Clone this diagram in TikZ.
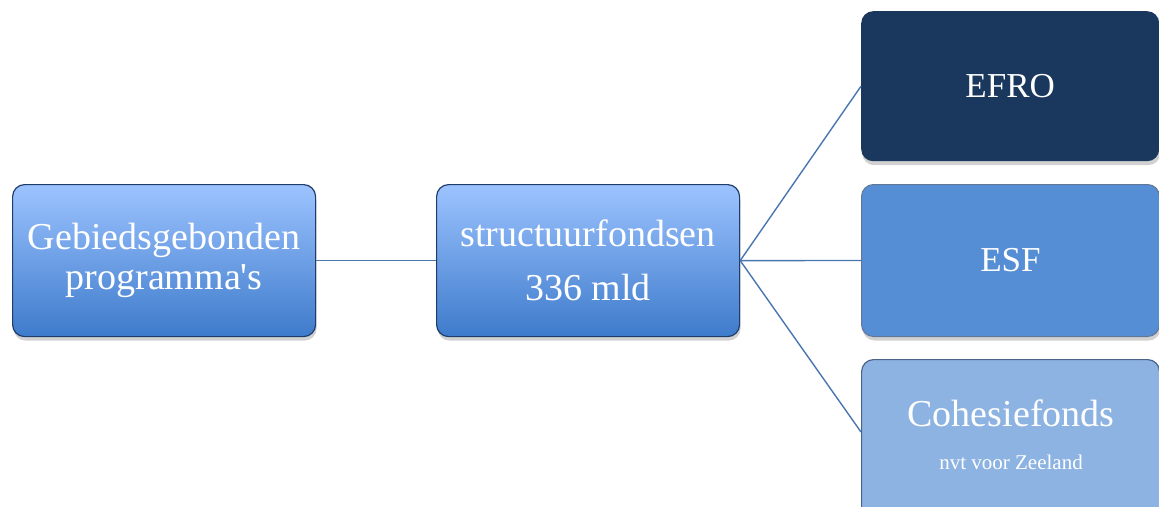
\documentclass[tikz,border=0pt]{standalone}
\usepackage{fontspec}
\setmainfont{Liberation Serif}
\usetikzlibrary{shadows}
\definecolor{navy}{HTML}{1A375E}
\definecolor{midblue}{HTML}{558ED5}
\definecolor{lightblue}{HTML}{8DB3E2}
\definecolor{gradtop}{HTML}{9CC3FF}
\definecolor{gradbot}{HTML}{3E7BCB}
\definecolor{edgeblue}{HTML}{1F3D6B}
\definecolor{linkblue}{HTML}{4A76B0}
\tikzset{
  box/.style={rounded corners=12pt, minimum width=303pt, minimum height=152pt, inner sep=0pt, align=center, text=white,
    drop shadow={shadow xshift=1pt, shadow yshift=-4pt, opacity=0.3, fill=black!60}},
  gradbox/.style={box, draw=edgeblue, line width=1.2pt, top color=gradtop, bottom color=gradbot},
  link/.style={draw=linkblue, line width=1.4pt},
  big/.style={font=\fontsize{38}{40}\selectfont},
  caps/.style={font=\fontsize{35}{40}\selectfont}
}
\begin{document}
\begin{tikzpicture}[x=1pt,y=-1pt]
\useasboundingbox (0,0) rectangle (1159,506);
\node[gradbox, big, anchor=north west] (geb) at (12,184) {Gebiedsgebonden\\programma\textquotesingle s};
\node[gradbox, big, anchor=north west, align=center] (str) at (436,184) {structuurfondsen\\[14pt]336 mld};
\node[box, caps, fill=navy, minimum width=298pt, minimum height=150pt, anchor=north west] (efro) at (861,11) {EFRO};
\node[box, caps, fill=midblue, draw=edgeblue!70, line width=1pt, minimum width=298pt, anchor=north west] (esf) at (861,184) {ESF};
\node[box, fill=lightblue, draw=edgeblue!80, line width=1.2pt, minimum width=298pt, minimum height=160pt, anchor=north west] (coh) at (861,359) {};
\node[big, text=white] (cohtxt) at (1011,413) {Cohesiefonds};
\node[text=white, font=\fontsize{21}{24}\selectfont] (nvt) at (1011,462) {nvt voor Zeeland};
\draw[link] (geb.east) -- (str.east -| str.west);
\draw[link] (str.east) -- (efro.west);
\draw[link] (str.east) -- (esf.west);
\draw[link] (str.east) -- (coh.west |- 0,432);
\end{tikzpicture}
\end{document}
